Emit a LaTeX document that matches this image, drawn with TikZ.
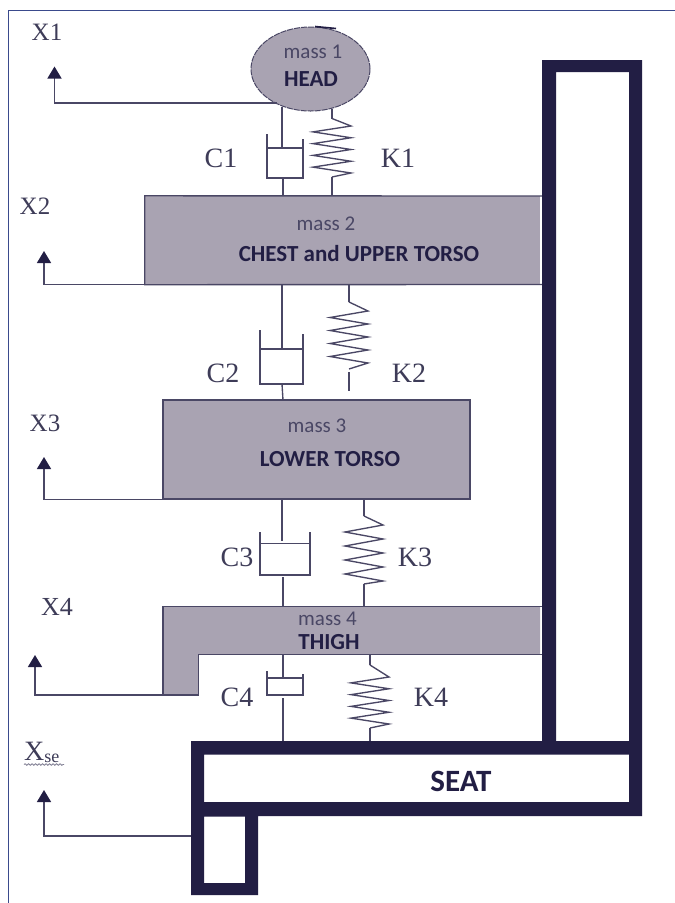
\documentclass[tikz,border=0pt]{standalone}
\usepackage{fontspec}
\setmainfont{Liberation Serif}
\newfontfamily\calib{Carlito}
\usetikzlibrary{arrows.meta,shapes.geometric,decorations.pathmorphing}
\definecolor{inkdark}{HTML}{221E44}
\definecolor{inkline}{HTML}{4A4765}
\definecolor{inktext}{HTML}{3E3C58}
\definecolor{massgrey}{HTML}{A9A3B2}
\definecolor{pageline}{HTML}{3A4A8C}
\newcommand{\fs}[1]{\fontsize{#1pt}{#1pt}\selectfont}
% spring: x, stem end top, first right peak, last right peak, stem start bottom, half width
\newcommand{\zigzag}[6]{%
  \draw[wire] (#1,#2) -- (#1+#6,#3)
  \foreach \i in {1,...,8}{ -- ({#1+#6*(1-2*mod(\i,2))},{#3+(#4-#3)*\i/8}) }
  -- (#1,#5);}
\tikzset{
  wire/.style={draw=inkline,line width=1.35pt,line join=miter},
  arrowline/.style={draw=inkline,line width=1.35pt,-{Triangle[length=12pt,width=14pt,color=inkdark]}},
  massbox/.style={fill=massgrey,draw=none,inner sep=0pt},
  lab/.style={text=inktext,inner sep=0pt,font=\fs{28}},
  xlab/.style={text=inktext,inner sep=0pt,font=\fs{25}},
  massname/.style={text=inkline,inner sep=0pt,font=\calib\fs{21}},
  bodyname/.style={text=inkdark,inner sep=0pt,font=\calib\bfseries\fs{23}},
}
\begin{document}
\begin{tikzpicture}[x=1pt,y=-1pt]
\useasboundingbox (0,0) rectangle (675,903);
\fill[white] (0,0) rectangle (675,903);
\draw[pageline,line width=1pt] (8,903) -- (8,10) -- (675,10);

% masses
\node[massbox,draw=inkline,line width=1pt,dash pattern=on 6pt off 1pt,ellipse,minimum width=119pt,minimum height=84pt] (m1) at (310.5,69) {};
\draw[inkdark,line width=1.6pt] (315,26.5) -- (336,28.5);
\node[massbox,minimum width=395pt,minimum height=88.5pt] (m2) at (342.5,240.25) {};
\node[massbox,draw=inkline,line width=1.35pt,minimum width=307pt,minimum height=99pt] (m3) at (316.5,449.5) {};
\path[fill=massgrey] (163,606.5) -- (540,606.5) -- (540,654.5) -- (198.5,654.5) -- (198.5,695) -- (163,695) -- cycle;
\draw[wire] (542,606.5) -- (163,606.5) -- (163,695) -- (198.5,695) -- (198.5,654.5) -- (542,654.5);
\draw[wire] (542,196) -- (m2.north west) -- (m2.south west) -- (542,284.5);

% motion arrows
\coordinate (t1) at (54.5,66.5);
\coordinate (t2) at (44,251);
\coordinate (t3) at (44,457);
\coordinate (t4) at (35,655);
\coordinate (t5) at (44,790);
\coordinate (s1) at (277,103);
\coordinate (s4) at (163,695);
\coordinate (s5) at (191,836);
\draw[arrowline] (s1) -| (t1);
\draw[arrowline] (m2.south west) -| (t2);
\draw[arrowline] (m3.south west) -| (t3);
\draw[arrowline] (s4) -| (t4);
\draw[arrowline] (s5) -| (t5);

% dampers
\draw[wire] (282,107) -- (282,148);
\draw[wire] (267,134) -- (267,178) -- (303,178) -- (303,139);
\draw[wire] (267,148) -- (303,148);
\draw[wire] (283,178) -- (283,196);

\draw[wire] (282,285) -- (282,349);
\draw[wire] (260,330) -- (260,384) -- (303,384) -- (303,334);
\draw[wire] (260,349) -- (303,349);
\draw[wire] (282,384) -- (283,400);

\draw[wire] (282,499) -- (282,541);
\draw[wire] (260,532) -- (260,575) -- (310,575) -- (310,532);
\draw[wire] (260,543.5) -- (310,543.5);
\draw[wire] (283,577) -- (283,606);

\draw[wire] (283,655) -- (283,678);
\draw[wire] (267,671) -- (267,695) -- (303,695) -- (303,674);
\draw[wire] (267,678) -- (303,678);
\draw[wire] (283,698) -- (283,741);

% springs
\draw[wire] (332,109) -- (332,118.5);
\zigzag{332}{118.5}{126}{173}{177}{19}
\draw[wire] (332,177) -- (332,196);

\draw[wire] (349,285) -- (349,302);
\zigzag{349}{302}{311}{363}{369}{19}
\draw[wire] (349,372) -- (349,391);

\draw[wire] (364,499) -- (364,516);
\zigzag{364}{516}{525}{581}{584}{19}
\draw[wire] (364,584) -- (364,606);

\draw[wire] (370,655) -- (370,665);
\zigzag{370}{665}{677}{724}{728}{19}
\draw[wire] (370,728) -- (370,741);

% frame
\path[fill=inkdark,even odd rule]
  (191,741) -- (542,741) -- (542,60) -- (642,60) -- (642,816) -- (258,816) -- (258,895) -- (191,895) -- cycle
  (556,72) rectangle (629,741)
  (204,754.5) rectangle (629,802)
  (204,816.5) rectangle (245,883);

% texts
\node[massname] (n1) at (313,52) {mass 1};
\node[bodyname] (b1) at (311,79.5) {HEAD};
\node[massname] (n2) at (326,223.5) {mass 2};
\node[bodyname] (b2) at (359,254) {CHEST and UPPER TORSO};
\node[massname] (n3) at (317,426) {mass 3};
\node[bodyname] (b3) at (330,459) {LOWER TORSO};
\node[massname] (n4) at (327.5,619) {mass 4};
\node[bodyname] (b4) at (329,642) {THIGH};
\node[bodyname,font=\calib\bfseries\fs{31}] (b5) at (461,781) {SEAT};

\node[xlab] (x1) at (47,32) {X1};
\node[xlab] (x2) at (35,206) {X2};
\node[xlab] (x3) at (45,423) {X3};
\node[xlab,font=\fs{26}] (x4) at (57,607) {X4};
\node[lab,anchor=base west] (x5) at (24,760) {X\raisebox{-2pt}{\fs{18}se}};
\draw[inkline!70,line width=.8pt,decorate,decoration={snake,amplitude=.8pt,segment length=3.5pt}] (24,764.5) -- (64,764.5);
\node[lab] (c1) at (221,158) {C1};
\node[lab] (c2) at (223,373) {C2};
\node[lab] (c3) at (237,557) {C3};
\node[lab] (c4) at (237,697) {C4};
\node[lab] (k1) at (398,158) {K1};
\node[lab] (k2) at (409,373) {K2};
\node[lab] (k3) at (415,557) {K3};
\node[lab] (k4) at (431,697) {K4};
\end{tikzpicture}
\end{document}
